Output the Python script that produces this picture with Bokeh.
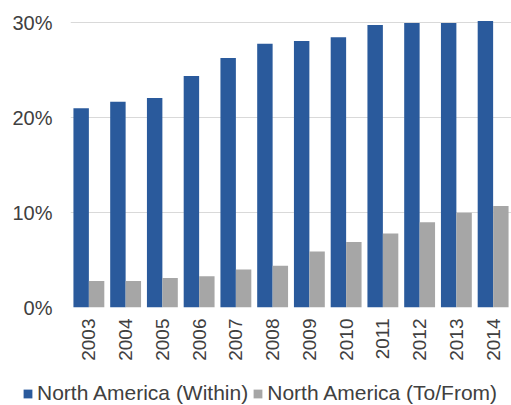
import math
from bokeh.plotting import figure
from bokeh.layouts import column
from bokeh.models import ColumnDataSource, FactorRange, Range1d, FixedTicker, PrintfTickFormatter, Legend, LegendItem
from bokeh.transform import dodge
from bokeh.embed import file_html
from bokeh.resources import INLINE

years = ["2003", "2004", "2005", "2006", "2007", "2008", "2009", "2010", "2011", "2012", "2013", "2014"]
within = [21.0, 21.7, 22.1, 24.4, 26.3, 27.8, 28.1, 28.5, 29.8, 30.0, 30.0, 30.2]
to_from = [2.8, 2.8, 3.1, 3.3, 4.0, 4.4, 5.9, 6.9, 7.8, 9.0, 10.0, 10.7]
series_names = ["North America (Within)", "North America (To/From)"]
y_ticks = [0, 10, 20, 30]

BLUE = "#2A5A9C"
GRAY = "#A6A6A6"
TEXT = "#404040"
FONT = "Liberation Sans"

src = ColumnDataSource(dict(year=years, within=within, to_from=to_from))

p = figure(x_range=FactorRange(*years), y_range=Range1d(0, 31),
           frame_width=441, frame_height=294, output_backend="svg", toolbar_location=None,
           min_border_left=70, min_border_right=0, min_border_top=13, min_border_bottom=60)

r1 = p.vbar(x=dodge("year", -0.21, range=p.x_range), top="within", width=0.42, source=src,
            fill_color=BLUE, line_color=None)
r2 = p.vbar(x=dodge("year", 0.21, range=p.x_range), top="to_from", width=0.42, source=src,
            fill_color=GRAY, line_color=None)

p.outline_line_color = None
p.xgrid.grid_line_color = None
p.ygrid.grid_line_color = "#D9D9D9"
p.ygrid.ticker = FixedTicker(ticks=y_ticks)

p.yaxis.ticker = FixedTicker(ticks=y_ticks)
p.yaxis.formatter = PrintfTickFormatter(format="%d%%")
p.yaxis.axis_line_color = None
p.yaxis.major_tick_line_color = None
p.yaxis.minor_tick_line_color = None
p.yaxis.major_tick_out = 0
p.yaxis.major_tick_in = 0
p.yaxis.major_label_standoff = 18
p.yaxis.major_label_text_font = FONT
p.yaxis.major_label_text_font_size = "20px"
p.yaxis.major_label_text_color = TEXT

p.xaxis.axis_line_color = None
p.xaxis.major_tick_line_color = None
p.xaxis.minor_tick_line_color = None
p.xaxis.major_tick_out = 0
p.xaxis.major_tick_in = 0
p.xaxis.major_label_orientation = math.pi / 2
p.xaxis.major_label_standoff = 11
p.xaxis.major_label_text_font = FONT
p.xaxis.major_label_text_font_size = "19px"
p.xaxis.major_label_text_color = TEXT

# legend strip below the chart
leg = figure(width=511, height=38, x_range=Range1d(0, 1), y_range=Range1d(0, 1),
             x_axis_type=None, y_axis_type=None, output_backend="svg", toolbar_location=None,
             min_border_left=0, min_border_right=0, min_border_top=0, min_border_bottom=0)
leg.outline_line_color = None
leg.xgrid.grid_line_color = None
leg.ygrid.grid_line_color = None

# legend proxies (kept outside the visible range of the strip)
l1 = leg.vbar(x=[-5], top=[-5], width=0.1, fill_color=BLUE, line_color=None)
l2 = leg.vbar(x=[-5], top=[-5], width=0.1, fill_color=GRAY, line_color=None)

if "frame_align" in leg.properties():
    leg.frame_align = False
    leg_x, leg_font = 22, "21px"
else:
    leg_x, leg_font = 2, "19px"

legend = Legend(items=[LegendItem(label=series_names[0], renderers=[l1]),
                       LegendItem(label=series_names[1], renderers=[l2])],
                orientation="horizontal", location=(leg_x, 0),
                margin=0, padding=0, spacing=4,
                glyph_width=11, glyph_height=11, label_standoff=4,
                label_text_font=FONT, label_text_font_size=leg_font, label_text_color=TEXT,
                border_line_color=None, background_fill_alpha=0)
leg.add_layout(legend, "center")

layout = column(p, leg, spacing=0)
open("out.html", "w").write(file_html(layout, INLINE))
